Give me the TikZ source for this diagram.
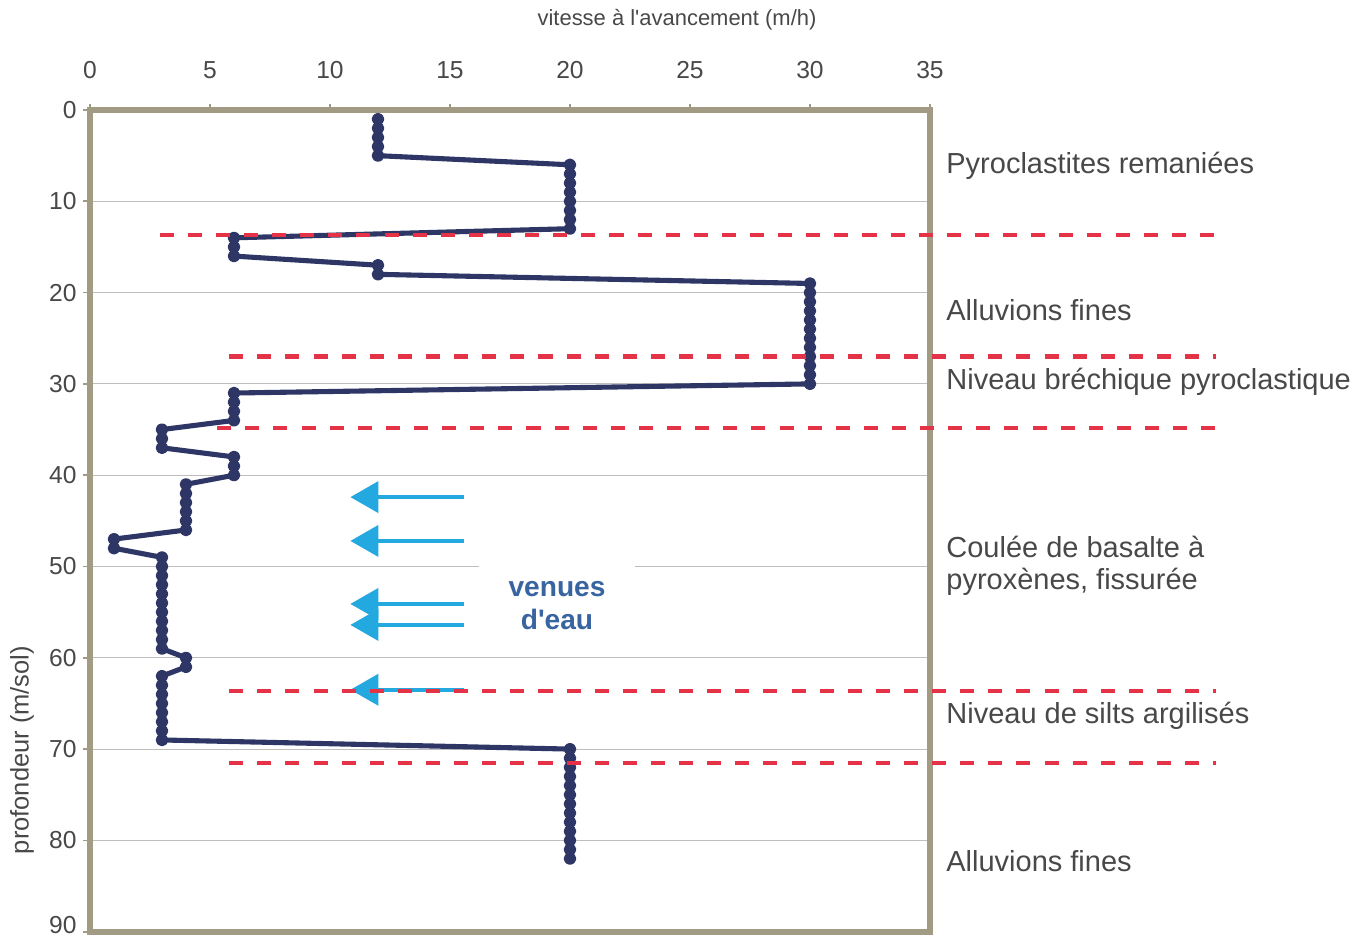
\documentclass[tikz,border=0pt]{standalone}
\usepackage{fontspec}
\setmainfont{Liberation Sans}
\usetikzlibrary{arrows.meta}
\definecolor{cadre}{RGB}{160,155,130}
\definecolor{serie}{RGB}{46,54,102}
\definecolor{rouge}{RGB}{228,50,70}
\definecolor{eau}{RGB}{36,168,224}
\definecolor{grille}{RGB}{190,190,190}
\definecolor{texte}{RGB}{72,72,72}
\definecolor{bleutexte}{RGB}{56,100,160}
\tikzset{
  limite/.style={rouge, line width=2.3pt, dash pattern=on 8pt off 8pt},
  venue/.style={eau, line width=2.2pt, -{Triangle[length=0.56cm,width=0.62cm]}},
  couche/.style={texte, anchor=west, inner sep=0pt, align=left, font=\fontsize{16.5}{18.2}\selectfont},
  graduation/.style={texte, inner sep=0pt, font=\fontsize{14}{16}\selectfont},
}
\begin{document}
\begin{tikzpicture}[x=0.48cm, y=-0.1826cm]
\useasboundingbox (-3.75,-12.05) rectangle (53.42,91.13);
% grille
\foreach \p in {10,20,...,80} \draw[grille, line width=0.6pt] (0,\p) -- (35,\p);

% axes
\foreach \p in {0,10,...,80} {
  \draw[cadre, line width=1pt] (-0.3,\p) -- (0,\p);
  \node[graduation, anchor=east] (y\p) at (-0.55,\p) {\p};
}
\draw[cadre, line width=1pt] (-0.3,90) -- (0,90);
\node[graduation, anchor=east] (y90) at (-0.55,89.3) {90};
\foreach \v in {0,5,...,35} {
  \draw[cadre, line width=1pt] (\v,-0.7) -- (\v,0);
  \node[graduation] (x\v) at (\v,-4.4) {\v};
}
\draw[cadre, line width=3.3pt] (0,0) rectangle (35,90);
\node[texte, font=\fontsize{12.5}{14}\selectfont] (titrex) at (24.46,-9.86) {vitesse à l\textquotesingle avancement (m/h)};
\node[texte, rotate=90, font=\fontsize{14.5}{16}\selectfont] (titrey) at (-2.83,70.1) {profondeur (m/sol)};

% venues d'eau
\node[bleutexte, fill=white, align=center, inner xsep=0.6cm, inner ysep=0.32cm,
  font=\bfseries\fontsize{16}{18.7}\selectfont] (venues) at (19.46,54.3) {venues\\d\textquotesingle eau};

% vitesse
\draw[serie, line width=2.9pt, line join=round, mark=*, mark size=2.1pt] plot coordinates {
  (12,1) (12,2) (12,3) (12,4) (12,5)
  (20,6) (20,7) (20,8) (20,9) (20,10) (20,11) (20,12) (20,13)
  (6,14) (6,15) (6,16)
  (12,17) (12,18)
  (30,19) (30,20) (30,21) (30,22) (30,23) (30,24) (30,25) (30,26) (30,27) (30,28) (30,29) (30,30)
  (6,31) (6,32) (6,33) (6,34)
  (3,35) (3,36) (3,37)
  (6,38) (6,39) (6,40)
  (4,41) (4,42) (4,43) (4,44) (4,45) (4,46)
  (1,47) (1,48)
  (3,49) (3,50) (3,51) (3,52) (3,53) (3,54) (3,55) (3,56) (3,57) (3,58) (3,59)
  (4,60) (4,61)
  (3,62) (3,63) (3,64) (3,65) (3,66) (3,67) (3,68) (3,69)
  (20,70) (20,71) (20,72) (20,73) (20,74) (20,75) (20,76) (20,77) (20,78) (20,79) (20,80) (20,81) (20,82)};

% fleches
\foreach \p [count=\i] in {42.4,47.2,54.1,56.4,63.5} {
  \coordinate (a\i) at (15.6,\p);
  \coordinate (b\i) at (10.85,\p);
  \draw[venue] (a\i) -- (b\i);
}

% limites de couches
\draw[limite] (2.9,13.7) -- (46.9,13.7);
\draw[limite] (5.8,27.0) -- (46.9,27.0);
\draw[limite] (5.3,34.8) -- (46.9,34.8);
\draw[limite] (5.8,63.6) -- (46.9,63.6);
\draw[limite] (5.8,71.5) -- (46.9,71.5);

% couches
\node[couche] (pyro) at (35.67,6.1) {Pyroclastites remaniées};
\node[couche] (alluvA) at (35.67,21.9) {Alluvions fines};
\node[couche] (breche) at (35.67,29.8) {Niveau bréchique pyroclastique};
\node[couche] (basalte) at (35.67,49.9) {Coulée de basalte à\\pyroxènes, fissurée};
\node[couche] (silts) at (35.67,66.4) {Niveau de silts argilisés};
\node[couche] (alluvB) at (35.67,82.3) {Alluvions fines};
\end{tikzpicture}
\end{document}
